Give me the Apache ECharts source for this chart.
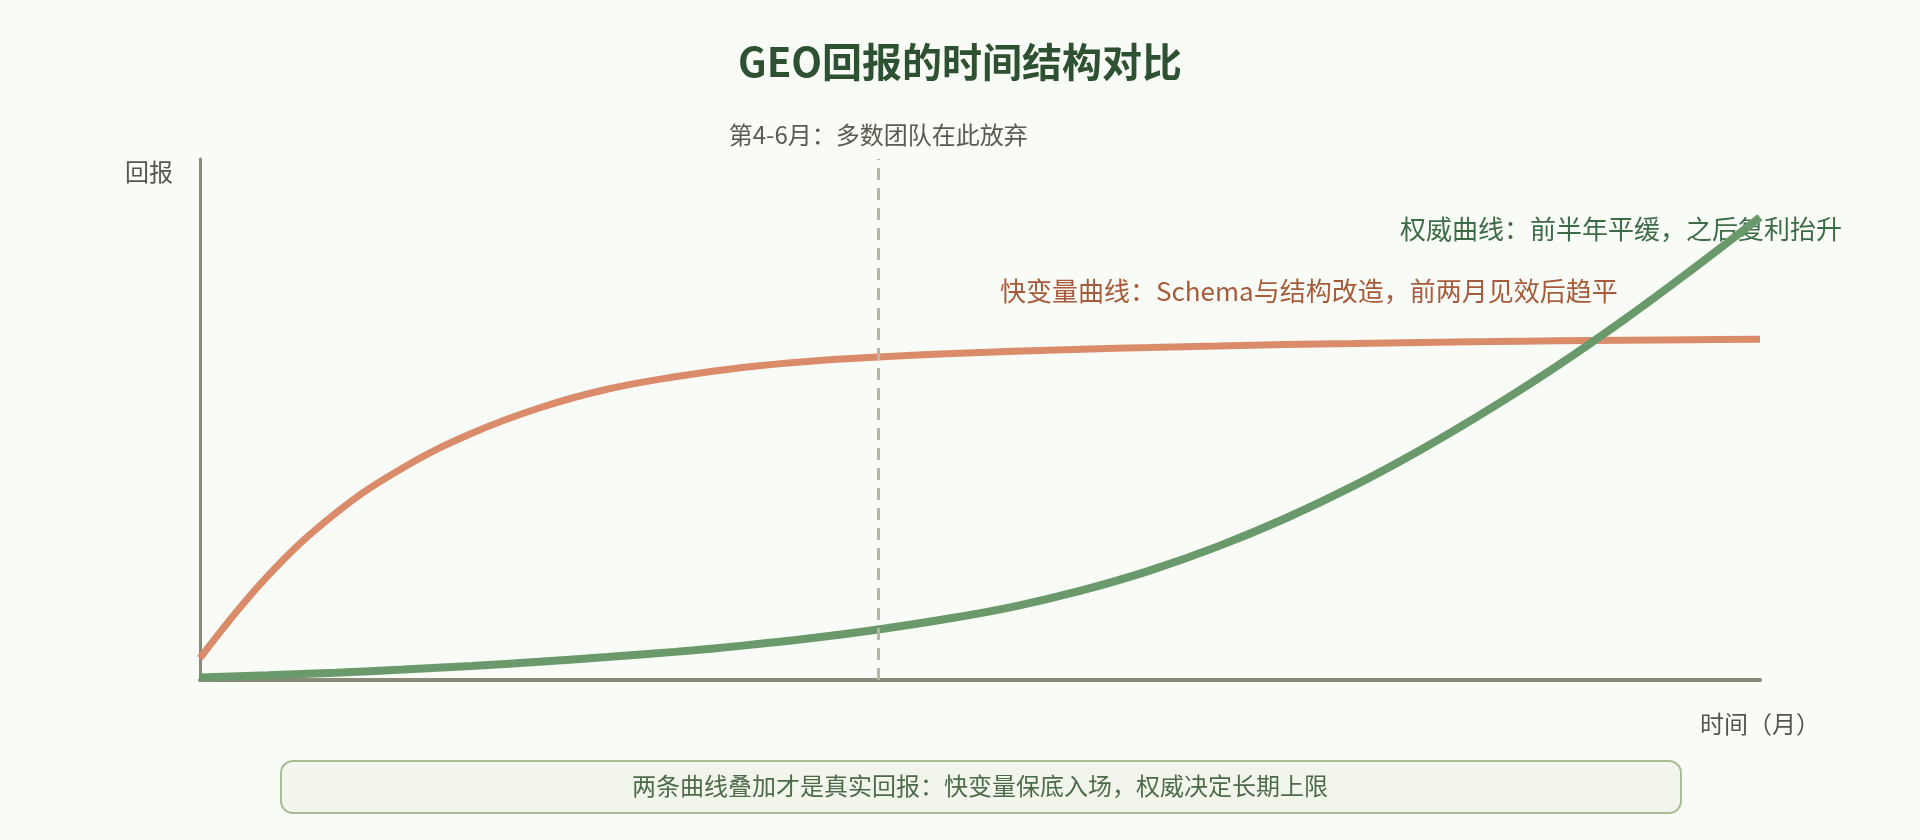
<!DOCTYPE html>
<html>
<head>
<meta charset="utf-8">
<script src="https://cdn.jsdelivr.net/npm/echarts@6/dist/echarts.min.js"></script>
<style>
html,body{margin:0;padding:0;background:#F9FBF6;}
#chart{width:1920px;height:840px;}
</style>
</head>
<body>
<div id="chart"></div>
<script>
// ---- data ----
var months = [0,0.5,1,1.5,2,2.5,3,3.5,4,4.5,5,5.5,6,6.5,7,7.5,8,8.5,9,9.5,10,10.5,11,11.5];
var fastValues = [4.2,20.0,32.0,40.8,47.3,52.2,55.8,58.2,60.0,61.2,62.0,62.6,63.1,63.5,63.8,64.1,64.4,64.6,64.8,64.95,65.1,65.2,65.3,65.4];
var authorityValues = [0.5,0.9,1.4,2.0,2.7,3.5,4.4,5.4,6.6,8.0,9.7,11.7,14.1,17.2,21.0,25.6,31.0,37.2,44.2,51.9,60.2,69.2,78.8,88.8];
var abandonMonth = 5;

var titleText = 'GEO回报的时间结构对比';
var abandonText = '第4-6月：多数团队在此放弃';
var fastLabel = '快变量曲线：Schema与结构改造，前两月见效后趋平';
var authorityLabel = '权威曲线：前半年平缓，之后复利抬升';
var yName = '回报';
var xName = '时间（月）';
var footerText = '两条曲线叠加才是真实回报：快变量保底入场，权威决定长期上限';

function pairs(xs, ys){ return xs.map(function(x,i){ return [x, ys[i]]; }); }

var FONT = '"Noto Sans CJK SC", "Noto Sans", sans-serif';
var chart = echarts.init(document.getElementById('chart'));
chart.setOption({
  backgroundColor: '#F9FBF6',
  textStyle: { fontFamily: FONT },
  animation: false,
  title: {
    text: titleText,
    left: 'center',
    top: 37,
    textStyle: { fontSize: 40, fontWeight: 'bold', color: '#2E5132', fontFamily: FONT }
  },
  grid: { left: 200, right: 160, top: 159, bottom: 160 },
  xAxis: {
    type: 'value', min: 0, max: 11.5,
    name: xName, nameLocation: 'end', nameGap: 0,
    nameTextStyle: { fontSize: 24, color: '#555550', align: 'center', verticalAlign: 'top', lineHeight: 24, padding: [32, 0, 0, 0], fontFamily: FONT },
    axisLine: { show: true, lineStyle: { color: '#8A8A78', width: 4 } },
    axisTick: { show: false }, axisLabel: { show: false }, splitLine: { show: false }
  },
  yAxis: {
    type: 'value', min: 0, max: 100,
    name: yName, nameLocation: 'end', nameGap: -13,
    nameTextStyle: { fontSize: 24, color: '#555550', align: 'right', verticalAlign: 'middle', padding: [0, 27, 0, 0], fontFamily: FONT },
    axisLine: { show: true, lineStyle: { color: '#8A8A78', width: 3 } },
    axisTick: { show: false }, axisLabel: { show: false }, splitLine: { show: false }
  },
  series: [
    {
      type: 'line', name: '快变量', data: pairs(months, fastValues),
      smooth: 0.4, symbol: 'none',
      lineStyle: { color: '#D98B6A', width: 7 }
    },
    {
      type: 'line', name: '权威', data: pairs(months, authorityValues),
      smooth: 0.4, symbol: 'none',
      lineStyle: { color: '#6A9A6B', width: 8 },
      markLine: {
        silent: true, symbol: 'none',
        lineStyle: { color: '#B5B6A6', width: 3, type: [12, 8] },
        label: { show: true, position: 'end', formatter: abandonText, fontSize: 24, color: '#5A5A50', distance: 12, fontFamily: FONT },
        data: [{ xAxis: abandonMonth }]
      }
    }
  ],
  graphic: [
    { type: 'text', left: 1400, top: 231 - 15, style: { text: authorityLabel, fontSize: 26, fill: '#3C6B47', fontFamily: FONT } },
    { type: 'text', left: 1000, top: 293 - 15, style: { text: fastLabel, fontSize: 26, fill: '#A65B3A', fontFamily: FONT } },
    { type: 'rect', left: 280, top: 760, shape: { width: 1400, height: 52, r: 12 }, style: { fill: '#F2F5EC', stroke: '#A8BC94', lineWidth: 2 } },
    { type: 'text', x: 980, y: 786, style: { text: footerText, fontSize: 24, fill: '#4D6B4A', align: 'center', verticalAlign: 'middle', fontFamily: FONT } }
  ]
});
</script>
</body>
</html>
